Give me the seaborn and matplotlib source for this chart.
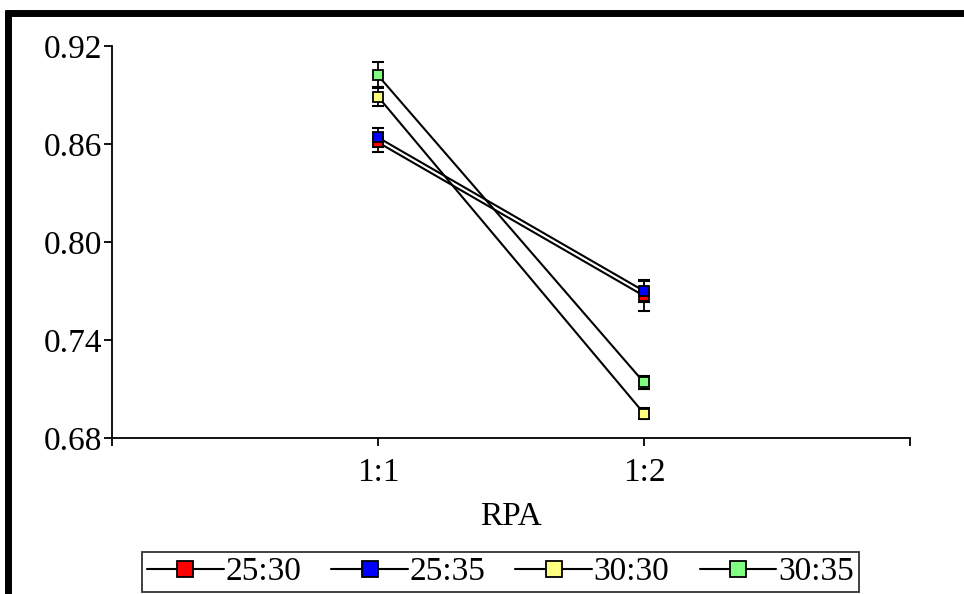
import matplotlib
matplotlib.use("Agg")
import matplotlib.pyplot as plt
from matplotlib.lines import Line2D
import seaborn as sns
import pandas as pd
import numpy as np

# data
rpa = ["1:1", "1:2"]
groups = ["25:30", "25:35", "30:30", "30:35"]
colors = ["#ff0000", "#0000ff", "#ffff80", "#80ff80"]
val_2530 = [0.861, 0.767]
val_2535 = [0.864, 0.770]
val_3030 = [0.889, 0.695]
val_3035 = [0.902, 0.714]
err_2530 = [0.006, 0.009]
err_2535 = [0.006, 0.007]
err_3030 = [0.006, 0.0035]
err_3035 = [0.008, 0.004]

vals = [val_2530, val_2535, val_3030, val_3035]
errs = [err_2530, err_2535, err_3030, err_3035]

rows = []
for g, v, e in zip(groups, vals, errs):
    for i, r in enumerate(rpa):
        rows.append({"RPA": r, "pos": i, "group": g, "value": v[i], "err": e[i]})
data = pd.DataFrame(rows)

sns.set_style("ticks")
plt.rcParams["font.family"] = ["Liberation Serif", "DejaVu Serif"]
plt.rcParams["text.color"] = "black"
plt.rcParams["xtick.color"] = "black"
plt.rcParams["ytick.color"] = "black"
plt.rcParams["axes.labelcolor"] = "black"

fig = plt.figure(figsize=(9.64, 5.94), dpi=100)
ax = fig.add_axes([112 / 964, 1 - 438 / 594, (910 - 112) / 964, (438 - 46) / 594])

palette = dict(zip(groups, colors))
sns.lineplot(data=data, x="pos", y="value", hue="group", palette=palette,
             units="group", estimator=None, ax=ax, legend=False,
             linewidth=1.5, zorder=2)
# lines in black
for ln in ax.lines:
    ln.set_color("black")

for g in groups:
    d = data[data["group"] == g]
    ax.errorbar(d["pos"], d["value"], yerr=d["err"], fmt="none", ecolor="black",
                elinewidth=1.3, capsize=4.5, capthick=1.5, zorder=3)
    ax.plot(d["pos"], d["value"], linestyle="none", marker="s", markersize=7.5,
            markerfacecolor=palette[g], markeredgecolor="black",
            markeredgewidth=1.3, zorder=4)

ax.set_xlim(-1, 2)
ax.set_xticks([-1, 0, 1, 2])
ax.set_xticklabels(["", rpa[0], rpa[1], ""])
ax.set_ylim(0.68, 0.92)
ax.set_yticks([0.68, 0.74, 0.80, 0.86, 0.92])
ax.set_yticklabels(["0.68", "0.74", "0.80", "0.86", "0.92"])
ax.set_xlabel("RPA", fontsize=24, labelpad=10)
ax.set_ylabel("")
ax.tick_params(axis="both", labelsize=24, direction="out", length=6,
               width=1.3, color="black", pad=1)
ax.tick_params(axis="x", pad=8)
for s in ["top", "right"]:
    ax.spines[s].set_visible(False)
for s in ["left", "bottom"]:
    ax.spines[s].set_color("black")
    ax.spines[s].set_linewidth(1.3)

handles = [Line2D([0], [0], color="black", linewidth=1.5, marker="s",
                  markersize=11, markerfacecolor=c, markeredgecolor="black",
                  markeredgewidth=1.3) for c in colors]
leg = fig.legend(handles, groups, loc="lower center", bbox_to_anchor=(0.519, 0.0),
                 ncol=4, fontsize=24, frameon=True, fancybox=False,
                 edgecolor="black", handlelength=2.3, handletextpad=0.05,
                 columnspacing=0.9, borderpad=0.15, borderaxespad=0.05)
leg.get_frame().set_linewidth(1.3)

# heavy frame left and top
fig.add_artist(Line2D([8 / 964, 8 / 964], [0, 1 - 10 / 594], color="black",
                      linewidth=5, solid_capstyle="butt", transform=fig.transFigure))
fig.add_artist(Line2D([5 / 964, 1], [1 - 13 / 594, 1 - 13 / 594], color="black",
                      linewidth=5, solid_capstyle="butt", transform=fig.transFigure))

fig.savefig("out.png", dpi=100)
